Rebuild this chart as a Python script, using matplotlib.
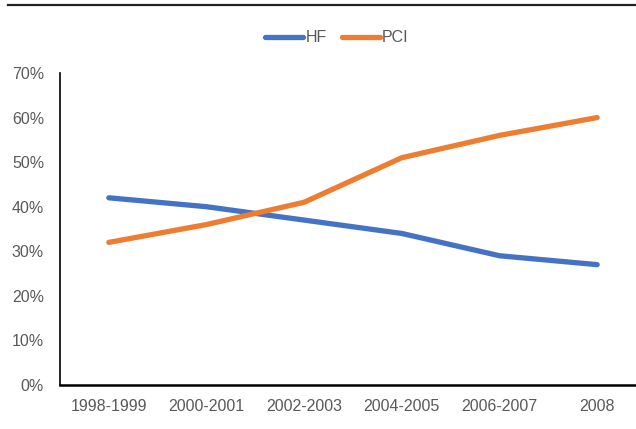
import matplotlib
matplotlib.use("Agg")
import matplotlib.pyplot as plt
from matplotlib.lines import Line2D
from matplotlib.ticker import FuncFormatter

periods = ["1998-1999", "2000-2001", "2002-2003", "2004-2005", "2006-2007", "2008"]
hf = [42, 40, 37, 34, 29, 27]
pci = [32, 36, 41, 51, 56, 60]
y_ticks = [0, 10, 20, 30, 40, 50, 60, 70]

plt.rcParams["font.family"] = ["Liberation Sans", "DejaVu Sans"]

fig = plt.figure(figsize=(6.36, 4.29), dpi=100)
W, H = 636, 429
# axes box in pixel terms: left 60, right 646, top 73, bottom 385
ax = fig.add_axes([60 / W, 1 - 385 / H, (646 - 60) / W, (385 - 73) / H])

x = list(range(len(periods)))
ax.plot(x, hf, color="#4472C4", lw=3.8, solid_capstyle="round", label="HF")
ax.plot(x, pci, color="#ED7D31", lw=3.8, solid_capstyle="round", label="PCI")

ax.set_xlim(-0.5, len(periods) - 0.5)
ax.set_ylim(0, 70)
ax.set_yticks(y_ticks)
ax.yaxis.set_major_formatter(FuncFormatter(lambda v, p: f"{int(v)}%"))
ax.set_xticks(x)
ax.set_xticklabels(periods)
ax.tick_params(axis="both", length=0, labelsize=11.5, colors="#595959")
ax.tick_params(axis="x", pad=10)
ax.tick_params(axis="y", pad=11.5)

for s in ["top", "right"]:
    ax.spines[s].set_visible(False)
ax.spines["left"].set_linewidth(1.2)
ax.spines["bottom"].set_linewidth(1.8)
ax.spines["left"].set_color("black")
ax.spines["bottom"].set_color("black")

leg = fig.legend(handles=[
    Line2D([], [], color="#4472C4", lw=3.8, solid_capstyle="round"),
    Line2D([], [], color="#ED7D31", lw=3.8, solid_capstyle="round")],
    labels=["HF", "PCI"], loc="center", bbox_to_anchor=(337 / W, 1 - 38 / H),
    ncol=2, frameon=False, fontsize=11.5, handlelength=2.4, handletextpad=0.15,
    columnspacing=0.9, borderpad=0)
for t in leg.get_texts():
    t.set_color("#595959")

# rule across the top of the figure
fig.add_artist(Line2D([8 / W, 1.0], [1 - 5 / H, 1 - 5 / H], color="#222222", lw=1.6))

fig.savefig("out.png", dpi=100)
